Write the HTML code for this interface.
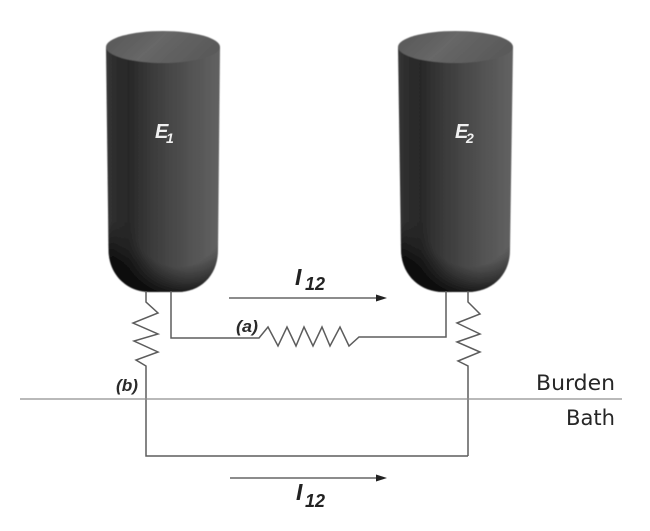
<!DOCTYPE html>
<html>
<head>
<meta charset="utf-8">
<style>
html,body{margin:0;padding:0;background:#fff;width:650px;height:531px;overflow:hidden}
svg{display:block}
text{font-family:"DejaVu Sans","Liberation Sans",sans-serif}
.lab{font-family:"Liberation Sans",sans-serif;font-style:italic;font-weight:bold}
</style>
</head>
<body>
<svg width="650" height="531" viewBox="0 0 650 531" xmlns="http://www.w3.org/2000/svg">
<defs>
<linearGradient id="body" x1="0" x2="1" y1="0" y2="0">
<stop offset="0" stop-color="#383838"/>
<stop offset="0.06" stop-color="#2e2e2e"/>
<stop offset="0.2" stop-color="#282828"/>
<stop offset="0.42" stop-color="#3c3c3c"/>
<stop offset="0.7" stop-color="#505050"/>
<stop offset="1" stop-color="#626262"/>
</linearGradient>
<radialGradient id="r1" gradientUnits="userSpaceOnUse" cx="0" cy="0" r="1" gradientTransform="translate(178 226) scale(72 68)">
<stop offset="0" stop-color="#000" stop-opacity="0"/>
<stop offset="0.6" stop-color="#000" stop-opacity="0"/>
<stop offset="0.85" stop-color="#000" stop-opacity="0.42"/>
<stop offset="1" stop-color="#000" stop-opacity="0.72"/>
</radialGradient>
<radialGradient id="r2" gradientUnits="userSpaceOnUse" cx="0" cy="0" r="1" gradientTransform="translate(470 226) scale(72 68)">
<stop offset="0" stop-color="#000" stop-opacity="0"/>
<stop offset="0.6" stop-color="#000" stop-opacity="0"/>
<stop offset="0.85" stop-color="#000" stop-opacity="0.42"/>
<stop offset="1" stop-color="#000" stop-opacity="0.72"/>
</radialGradient>
<linearGradient id="fade" gradientUnits="userSpaceOnUse" x1="0" x2="0" y1="222" y2="262">
<stop offset="0" stop-color="#000"/>
<stop offset="1" stop-color="#fff"/>
</linearGradient>
<mask id="m" maskUnits="userSpaceOnUse" x="0" y="0" width="650" height="531">
<rect x="0" y="0" width="650" height="531" fill="url(#fade)"/>
</mask>
<linearGradient id="top" x1="0" x2="1" y1="0" y2="0.3">
<stop offset="0" stop-color="#565656"/>
<stop offset="0.5" stop-color="#676767"/>
<stop offset="1" stop-color="#5a5a5a"/>
</linearGradient>
<filter id="soft" x="-5%" y="-5%" width="110%" height="110%"><feGaussianBlur stdDeviation="0.6"/></filter>
<filter id="soft2" x="-5%" y="-5%" width="110%" height="110%"><feGaussianBlur stdDeviation="0.3"/></filter>
</defs>

<g filter="url(#soft)">
<!-- Cylinder 1 -->
<path d="M106 47 L108.500 250 C109 276 128 292 150 292 L178 292 C200 292 218 276 218 250 L220 47 Z" fill="url(#body)"/>
<path d="M106 47 L108.500 250 C109 276 128 292 150 292 L178 292 C200 292 218 276 218 250 L220 47 Z" fill="url(#r1)" mask="url(#m)"/>
<ellipse cx="163" cy="47" rx="57" ry="16" fill="url(#top)"/>
<!-- Cylinder 2 -->
<path d="M398 47 L401 250 C401.500 276 421 292 443 292 L468 292 C491 292 510 276 510 250 L513 47 Z" fill="url(#body)"/>
<path d="M398 47 L401 250 C401.500 276 421 292 443 292 L468 292 C491 292 510 276 510 250 L513 47 Z" fill="url(#r2)" mask="url(#m)"/>
<ellipse cx="455.500" cy="47" rx="57.500" ry="16" fill="url(#top)"/>
</g>

<g filter="url(#soft2)">
<g fill="none" stroke="#5c5c5c" stroke-width="1.500" stroke-linejoin="miter">
<!-- (b) left resistor -->
<polyline points="146,291 146,302 158,313 133,323 158,334 134,341 158,352 136,360 146,366 146,456 468,456"/>
<!-- (a) middle resistor -->
<polyline points="171,291 171,338 259,338 268,327 278,346 287,327 296,346 304,327 313,346 322,327 330,346 340,327 349,346 359,337 446,337 446,291"/>
<!-- right resistor -->
<polyline points="468,291 468,302 480,314 457,323 480,334 457,342 480,352 458,361 468,366 468,456"/>
</g>

<!-- horizon -->
<line x1="20" y1="399" x2="622" y2="399" stroke="#8f8f8f" stroke-width="1.300"/>

<!-- arrows -->
<line x1="229" y1="298" x2="378" y2="298" stroke="#666" stroke-width="1.500"/>
<polygon points="376,294.500 387,298 376,301.500" fill="#222"/>
<line x1="230" y1="478" x2="378" y2="478" stroke="#666" stroke-width="1.500"/>
<polygon points="376,474.500 387,478 376,481.500" fill="#222"/>

<!-- labels -->
<text class="lab" x="155" y="138" font-size="20" fill="#f0f0f0">E</text>
<text class="lab" x="166" y="143" font-size="14" fill="#f0f0f0">1</text>
<text class="lab" x="455" y="138" font-size="20" fill="#f0f0f0">E</text>
<text class="lab" x="466" y="143" font-size="14" fill="#f0f0f0">2</text>

<text class="lab" x="295" y="285" font-size="23" fill="#222">I</text>
<text class="lab" x="305" y="290" font-size="18" fill="#222" textLength="20" lengthAdjust="spacingAndGlyphs">12</text>
<text class="lab" x="296" y="500" font-size="23" fill="#222">I</text>
<text class="lab" x="305" y="507" font-size="18" fill="#222" textLength="20" lengthAdjust="spacingAndGlyphs">12</text>

<text class="lab" x="236" y="332" font-size="17" fill="#2a2a2a" textLength="22" lengthAdjust="spacingAndGlyphs">(a)</text>
<text class="lab" x="116" y="391" font-size="17" fill="#2a2a2a" textLength="22" lengthAdjust="spacingAndGlyphs">(b)</text>

<text x="536" y="390" font-size="21" fill="#262626" textLength="79" lengthAdjust="spacingAndGlyphs">Burden</text>
<text x="566" y="425" font-size="21" fill="#262626" textLength="49" lengthAdjust="spacingAndGlyphs">Bath</text>
</g>
</svg>
</body>
</html>
